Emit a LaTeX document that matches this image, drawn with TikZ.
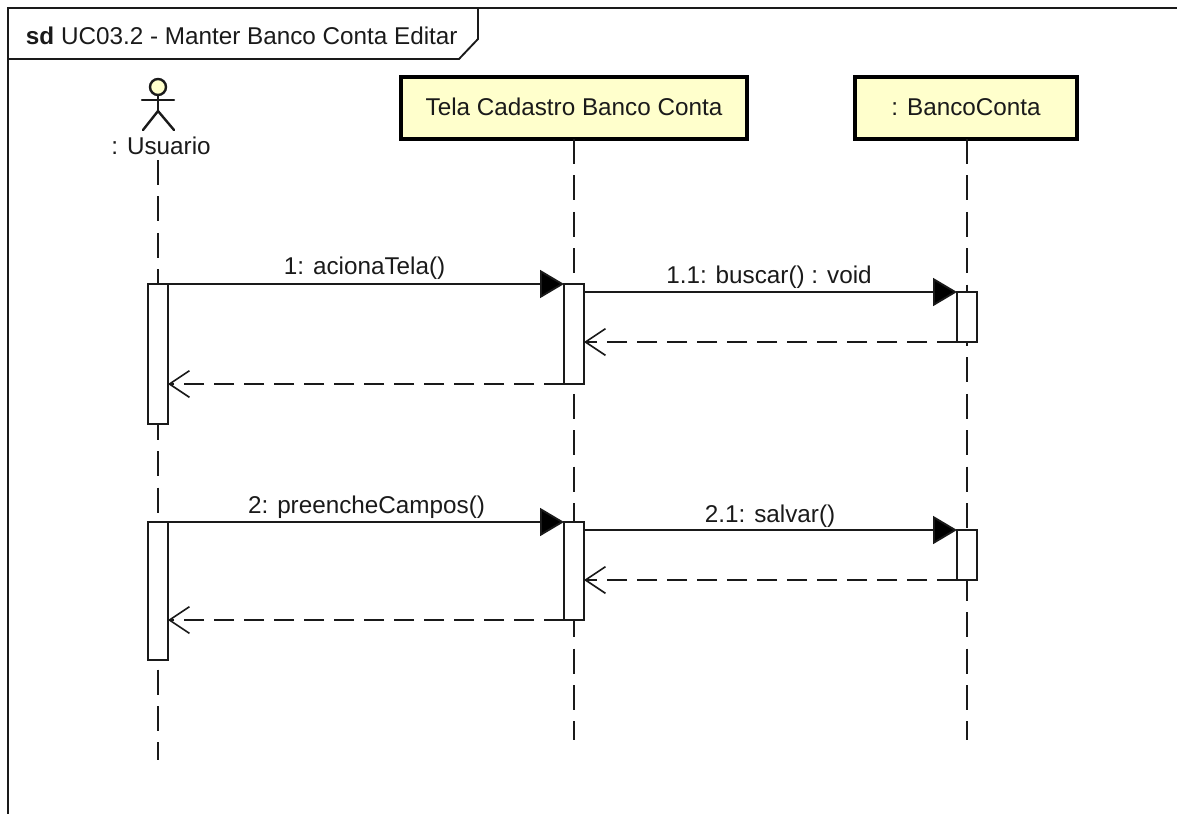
\documentclass[tikz,border=0pt]{standalone}
\usepackage{fontspec}
\setmainfont{Liberation Sans}
\usetikzlibrary{arrows.meta}
\definecolor{boxfill}{HTML}{FFFFCC}
\definecolor{ink}{HTML}{1A1A1A}
\newcommand{\dtxt}{\fontsize{18.2pt}{21pt}\selectfont}
\newcommand{\uptxt}[1]{\raisebox{2.2pt}{#1}}
\tikzset{
 x=0.75pt,y=-0.75pt,
 every node/.style={font=\dtxt,text=ink,inner sep=0pt,outer sep=0pt},
 objbox/.style={draw=black,line width=3pt,fill=boxfill,minimum height=46.5pt,anchor=north west},
 lifeline/.style={draw=ink,line width=1.4pt,dash pattern=on 18.7pt off 8.6pt},
 activ/.style={draw=ink,line width=1.4pt,fill=white,minimum width=15pt,anchor=north west},
 msg/.style={draw=ink,line width=1.4pt,-{Triangle[length=18pt,width=21pt,fill=black]}},
 ret/.style={draw=ink,line width=1.4pt,dash pattern=on 15pt off 7.5pt,-{Straight Barb[length=15pt,width=20pt,line width=1.2pt]}},
 msglabel/.style={anchor=base},
 frameline/.style={draw=ink,line width=1.4pt},
 actorline/.style={draw=ink,line width=1.8pt,line cap=round},
}
\begin{document}
\begin{tikzpicture}
\useasboundingbox (0,0) rectangle (1177,814);
% frame
\coordinate (ftr) at (1177,8);
\coordinate (ftl) at (8,8);
\coordinate (fbl) at (8,814);
\draw[frameline] (ftr) -- (ftl) -- (fbl);
\coordinate (tabA) at (8,59);
\coordinate (tabB) at (459,59);
\coordinate (tabC) at (478,39);
\coordinate (tabD) at (478,8);
\draw[frameline] (tabA) -- (tabB) -- (tabC) -- (tabD);
\node[anchor=base west] (title) at (26,44) {\textbf{sd} UC03.2 - Manter Banco Conta Editar};
% object boxes
\node[objbox,minimum width=259.5pt] (tela) at (401,77) {\uptxt{Tela Cadastro Banco Conta}};
\node[objbox,minimum width=166.5pt] (banco) at (855,77) {\uptxt{: BancoConta}};
% actor
\node[draw=ink,line width=1.8pt,fill=boxfill,circle,minimum size=12pt] (head) at (158,87) {};
\coordinate (hip) at (158,111);
\coordinate (armL) at (142,100);
\coordinate (armR) at (174,100);
\coordinate (legL) at (143,130);
\coordinate (legR) at (174,130);
\draw[actorline] (head.south) -- (hip);
\draw[actorline] (armL) -- (armR);
\draw[actorline] (legL) -- (hip) -- (legR);
\node[anchor=base] (usuario) at (161,154) {: Usuario};
% lifelines
\coordinate (uS) at (158,160);
\coordinate (uE) at (158,760);
\coordinate (tE) at (574,740);
\coordinate (bE) at (967,740);
\draw[lifeline] (uS) -- (uE);
\draw[lifeline] (tela.south -| tE) -- (tE);
\draw[lifeline] (banco.south -| bE) -- (bE);
% activations
\node[activ,minimum height=105pt] (u1) at (148,284) {};
\node[activ,minimum height=103.5pt] (u2) at (148,522) {};
\node[activ,minimum height=75pt] (t1) at (564,284) {};
\node[activ,minimum height=73.5pt] (t2) at (564,522) {};
\node[activ,minimum height=37.5pt] (b1) at (957,292) {};
\node[activ,minimum height=37.5pt] (b2) at (957,530) {};
% messages
\draw[msg] (u1.north east) -- (t1.north west);
\draw[msg] (t1.east |- b1.north) -- (b1.north west);
\draw[ret] (b1.south west) -- (t1.east |- b1.south);
\draw[ret] (t1.south west) -- (u1.east |- t1.south);
\draw[msg] (u2.north east) -- (t2.north west);
\draw[msg] (t2.east |- b2.north) -- (b2.north west);
\draw[ret] (b2.south west) -- (t2.east |- b2.south);
\draw[ret] (t2.south west) -- (u2.east |- t2.south);
% labels
\node[msglabel] (m1) at (364.5,274) {1: acionaTela()};
\node[msglabel] (m11) at (769,283) {1.1: buscar() : void};
\node[msglabel] (m2) at (366.5,513) {2: preencheCampos()};
\node[msglabel] (m21) at (770,522) {2.1: salvar()};
\end{tikzpicture}
\end{document}
